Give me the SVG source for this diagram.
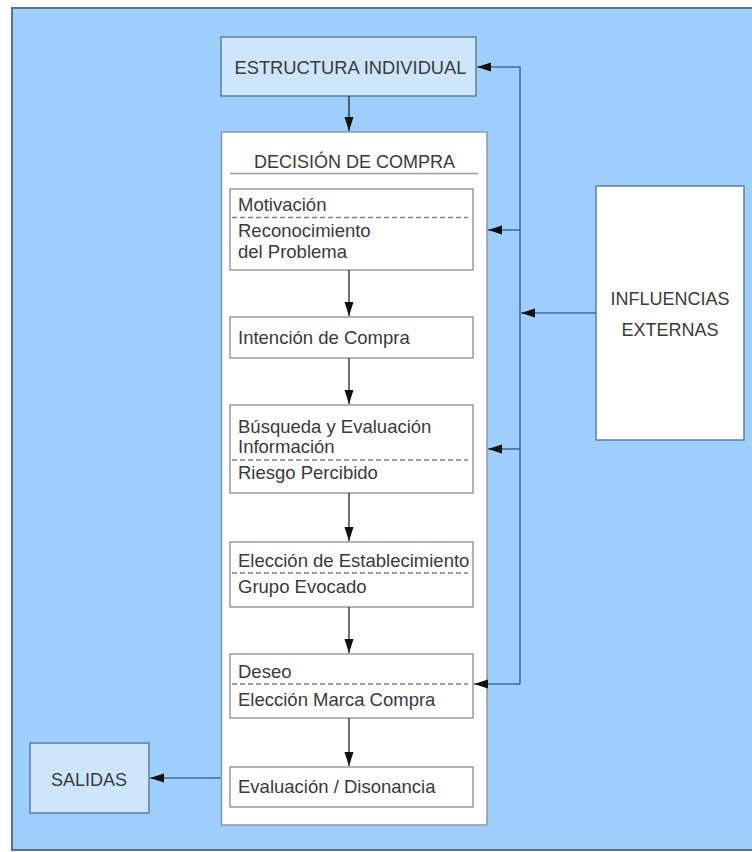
<svg xmlns="http://www.w3.org/2000/svg" width="752" height="852" viewBox="0 0 752 852">
<defs>
<style>
text{font-family:"Liberation Sans",Arial,sans-serif;fill:#3a3a3a;font-size:18.5px}
.cap{font-size:18px}
.blue{fill:#cde6fc;stroke:#5f7f98;stroke-width:1.5}
.inner{fill:#fff;stroke:#8a8a8a;stroke-width:1.3}
.dash{stroke:#808080;stroke-width:1.3;stroke-dasharray:5 3}
.fb{fill:none;stroke:#3f6f99;stroke-width:1.6}
.dn{fill:none;stroke:#222;stroke-width:1.3}
</style>
<marker id="ah" markerUnits="userSpaceOnUse" markerWidth="15" markerHeight="10" refX="14" refY="4.5" orient="auto">
<path d="M0,0 L14,4.5 L0,9 z" fill="#111"/>
</marker>
</defs>
<rect x="0" y="0" width="752" height="852" fill="#fff"/>
<rect x="12" y="8" width="745" height="842" fill="#9dcefc" stroke="#5a7488" stroke-width="2"/>

<g id="estructura">
<rect class="blue" x="221" y="37" width="255" height="59"/>
<text class="cap" x="350.5" y="73.5" text-anchor="middle" font-size="17.5" textLength="232" lengthAdjust="spacingAndGlyphs">ESTRUCTURA INDIVIDUAL</text>
</g>

<g id="decision">
<rect x="221.5" y="132" width="265.5" height="693" fill="#fff" stroke="#8a9aa8" stroke-width="1.5"/>
<text class="cap" x="354.5" y="168" text-anchor="middle">DECISIÓN DE COMPRA</text>
<line x1="230" y1="173.5" x2="478" y2="173.5" stroke="#9a9a9a" stroke-width="1.3"/>
</g>

<g id="motivacion">
<rect class="inner" x="230" y="189" width="243" height="81"/>
<text x="238" y="211">Motivación</text>
<line class="dash" x1="232" y1="217.5" x2="468" y2="217.5"/>
<text x="238" y="237">Reconocimiento</text>
<text x="238" y="258">del Problema</text>
</g>

<g id="intencion">
<rect class="inner" x="230" y="317" width="243" height="41"/>
<text x="238" y="344">Intención de Compra</text>
</g>

<g id="busqueda">
<rect class="inner" x="230" y="405" width="243" height="88"/>
<text x="238" y="433">Búsqueda y Evaluación</text>
<text x="238" y="453">Información</text>
<line class="dash" x1="232" y1="460" x2="468" y2="460"/>
<text x="238" y="479">Riesgo Percibido</text>
</g>

<g id="eleccion">
<rect class="inner" x="230" y="542" width="243" height="65"/>
<text x="238" y="567">Elección de Establecimiento</text>
<line class="dash" x1="232" y1="573" x2="468" y2="573"/>
<text x="238" y="593">Grupo Evocado</text>
</g>

<g id="deseo">
<rect class="inner" x="230" y="654" width="243" height="64"/>
<text x="238" y="678">Deseo</text>
<line class="dash" x1="232" y1="684" x2="468" y2="684"/>
<text x="238" y="706">Elección Marca Compra</text>
</g>

<g id="evaluacion">
<rect class="inner" x="230" y="767" width="243" height="40"/>
<text x="238" y="793">Evaluación / Disonancia</text>
</g>

<g id="salidas">
<rect class="blue" x="30" y="743" width="119" height="70"/>
<text class="cap" x="89" y="786" text-anchor="middle">SALIDAS</text>
</g>

<g id="influencias">
<rect x="596" y="186" width="148" height="254" fill="#fff" stroke="#5f7f98" stroke-width="1.5"/>
<text class="cap" x="670" y="305" text-anchor="middle">INFLUENCIAS</text>
<text class="cap" x="670" y="336" text-anchor="middle">EXTERNAS</text>
</g>

<g id="connectors">
<path class="dn" d="M349,96 V131" marker-end="url(#ah)"/>
<path class="dn" d="M349,270 V316" marker-end="url(#ah)"/>
<path class="dn" d="M349,358 V404" marker-end="url(#ah)"/>
<path class="dn" d="M349,493 V541" marker-end="url(#ah)"/>
<path class="dn" d="M349,607 V653" marker-end="url(#ah)"/>
<path class="dn" d="M349,718 V766" marker-end="url(#ah)"/>
<path class="fb" d="M520,684 V67 H477" marker-end="url(#ah)"/>
<path class="fb" d="M520,684 H474" marker-end="url(#ah)"/>
<path class="fb" d="M520,230 H488" marker-end="url(#ah)"/>
<path class="fb" d="M520,449 H488" marker-end="url(#ah)"/>
<path class="fb" d="M596,313 H521" marker-end="url(#ah)"/>
<path class="fb" d="M221,778 H150" marker-end="url(#ah)"/>
</g>
</svg>
